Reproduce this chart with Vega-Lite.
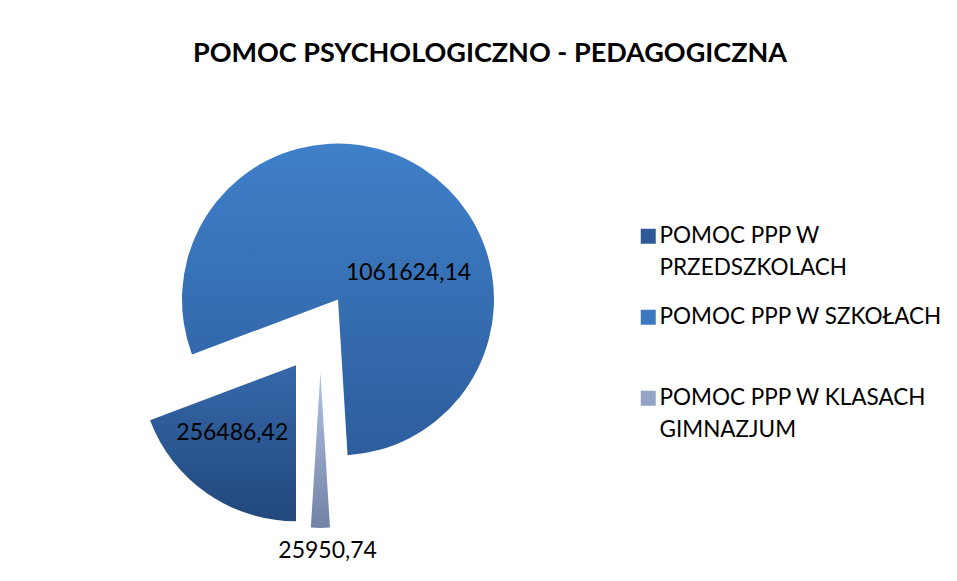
{
  "$schema": "https://vega.github.io/schema/vega-lite/v6.json",
  "width": 636,
  "height": 446,
  "autosize": {"type": "none"},
  "padding": {"left": 0, "top": 110, "right": 321, "bottom": 25},
  "background": "white",
  "title": {
    "text": "POMOC PSYCHOLOGICZNO - PEDAGOGICZNA",
    "font": "Lato",
    "fontSize": 27,
    "fontWeight": "bold",
    "color": "black",
    "anchor": "middle",
    "frame": "group",
    "dx": 172,
    "offset": 42
  },
  "config": {
    "view": {"stroke": null},
    "locale": {"number": {"decimal": ",", "thousands": "", "grouping": [3], "currency": ["", ""]}}
  },
  "data": {
    "values": [
      {"kategoria": "POMOC PPP W PRZEDSZKOLACH", "wartosc": 256486.42, "kolejnosc": 1},
      {"kategoria": "POMOC PPP W SZKOŁACH", "wartosc": 1061624.14, "kolejnosc": 2},
      {"kategoria": "POMOC PPP W KLASACH GIMNAZJUM", "wartosc": 25950.74, "kolejnosc": 3}
    ]
  },
  "transform": [
    {"stack": "wartosc", "groupby": [], "sort": [{"field": "kolejnosc", "order": "ascending"}], "as": ["od", "do"]}
  ],
  "layer": [
    {
      "transform": [{"filter": "datum.kolejnosc == 1"}],
      "mark": {
        "type": "arc", "outerRadius": 156, "xOffset": -22, "yOffset": 32.2,
        "fill": {"gradient": "linear", "x1": 0, "y1": 0, "x2": 0, "y2": 1, "stops": [{"offset": 0, "color": "#3568AA"}, {"offset": 1, "color": "#22487C"}]}
      },
      "encoding": {
        "theta": {"field": "od", "type": "quantitative", "stack": null, "scale": {"range": [3.14159265, 9.42477796], "zero": true, "nice": false}},
        "theta2": {"field": "do"}
      }
    },
    {
      "transform": [{"filter": "datum.kolejnosc == 2"}],
      "mark": {
        "type": "arc", "outerRadius": 156, "xOffset": 20, "yOffset": -33.5,
        "fill": {"gradient": "linear", "x1": 0, "y1": 0, "x2": 0, "y2": 1, "stops": [{"offset": 0, "color": "#3F80CA"}, {"offset": 1, "color": "#2D5D9C"}]}
      },
      "encoding": {
        "theta": {"field": "od", "type": "quantitative", "stack": null, "scale": {"range": [3.14159265, 9.42477796], "zero": true, "nice": false}},
        "theta2": {"field": "do"}
      }
    },
    {
      "transform": [{"filter": "datum.kolejnosc == 3"}],
      "mark": {
        "type": "arc", "outerRadius": 156, "xOffset": 2.4, "yOffset": 38.9,
        "fill": {"gradient": "linear", "x1": 0, "y1": 0, "x2": 0, "y2": 1, "stops": [{"offset": 0, "color": "#B2C4E4"}, {"offset": 1, "color": "#7282A7"}]}
      },
      "encoding": {
        "theta": {"field": "od", "type": "quantitative", "stack": null, "scale": {"range": [3.14159265, 9.42477796], "zero": true, "nice": false}},
        "theta2": {"field": "do"}
      }
    },
    {
      "transform": [
        {"filter": "datum.kolejnosc == 1"},
        {"fold": ["od", "do"], "as": ["krawedz", "kat"]},
        {"aggregate": [{"op": "mean", "field": "kat", "as": "srodek"}, {"op": "max", "field": "wartosc", "as": "wartosc"}], "groupby": ["kategoria"]}
      ],
      "mark": {"type": "text", "radius": 92, "thetaOffset": 0.16, "xOffset": -22, "yOffset": 33.5, "font": "Lato", "fontSize": 23, "color": "black", "align": "center", "baseline": "middle"},
      "encoding": {
        "theta": {"field": "srodek", "type": "quantitative", "stack": null, "scale": {"range": [3.14159265, 9.42477796], "zero": true, "nice": false}},
        "text": {"field": "wartosc", "type": "quantitative", "format": ".2f"}
      }
    },
    {
      "transform": [
        {"filter": "datum.kolejnosc == 2"},
        {"fold": ["od", "do"], "as": ["krawedz", "kat"]},
        {"aggregate": [{"op": "mean", "field": "kat", "as": "srodek"}, {"op": "max", "field": "wartosc", "as": "wartosc"}], "groupby": ["kategoria"]}
      ],
      "mark": {"type": "text", "radius": 75, "thetaOffset": 0.649, "xOffset": 20, "yOffset": -34, "font": "Lato", "fontSize": 23, "color": "black", "align": "center", "baseline": "middle"},
      "encoding": {
        "theta": {"field": "srodek", "type": "quantitative", "stack": null, "scale": {"range": [3.14159265, 9.42477796], "zero": true, "nice": false}},
        "text": {"field": "wartosc", "type": "quantitative", "format": ".2f"}
      }
    },
    {
      "transform": [
        {"filter": "datum.kolejnosc == 3"},
        {"fold": ["od", "do"], "as": ["krawedz", "kat"]},
        {"aggregate": [{"op": "mean", "field": "kat", "as": "srodek"}, {"op": "max", "field": "wartosc", "as": "wartosc"}], "groupby": ["kategoria"]}
      ],
      "mark": {"type": "text", "radius": 178.5, "thetaOffset": 0.019, "xOffset": 13, "yOffset": 40, "font": "Lato", "fontSize": 23, "color": "black", "align": "center", "baseline": "middle"},
      "encoding": {
        "theta": {"field": "srodek", "type": "quantitative", "stack": null, "scale": {"range": [3.14159265, 9.42477796], "zero": true, "nice": false}},
        "text": {"field": "wartosc", "type": "quantitative", "format": ".2f"}
      }
    },
    {
      "mark": {"type": "square", "opacity": 0, "size": 0},
      "encoding": {
        "color": {
          "field": "kategoria",
          "type": "nominal",
          "scale": {
            "domain": ["POMOC PPP W PRZEDSZKOLACH", "POMOC PPP W SZKOŁACH", "POMOC PPP W KLASACH GIMNAZJUM"],
            "range": ["#2D5A96", "#3C78C0", "#93A4C7"]
          },
          "legend": {
            "title": null,
            "orient": "none",
            "legendX": 637,
            "legendY": 115,
            "padding": 0,
            "symbolType": "square",
            "symbolSize": 225,
            "symbolStrokeWidth": 0,
            "symbolOpacity": 1,
            "labelFont": "Lato",
            "labelFontSize": 22.5,
            "labelColor": "black",
            "labelOffset": 0,
            "labelLimit": 0,
            "labelBaseline": "middle",
            "rowPadding": 26,
            "labelExpr": "length(datum.label) > 22 ? [substring(datum.label, 0, lastindexof(datum.label, ' ')), substring(datum.label, lastindexof(datum.label, ' ') + 1)] : [datum.label, ' ']",
            "encode": {"labels": {"update": {"lineHeight": {"value": 32}}}}
          }
        }
      }
    }
  ]
}
